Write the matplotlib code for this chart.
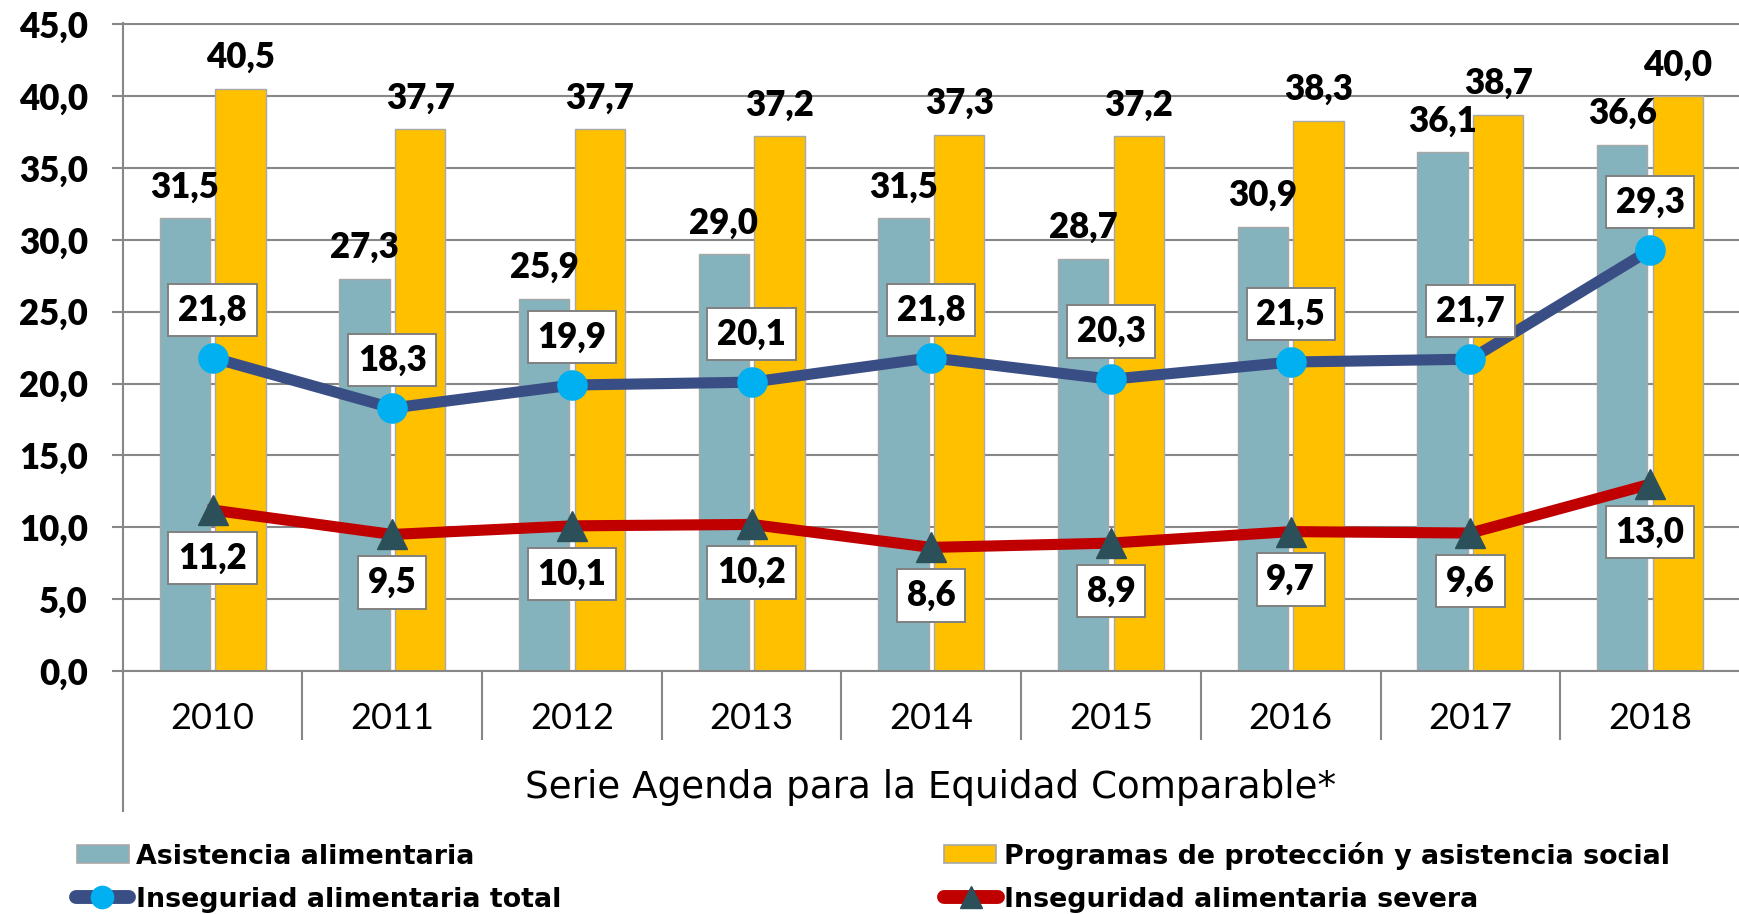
import matplotlib
matplotlib.use('Agg')
import matplotlib.pyplot as plt
import numpy as np
from matplotlib.lines import Line2D
from matplotlib.patches import Rectangle
from matplotlib.transforms import Affine2D

# ---------------- data ----------------
years = ['2010', '2011', '2012', '2013', '2014', '2015', '2016', '2017', '2018']
asistencia = [31.5, 27.3, 25.9, 29.0, 31.5, 28.7, 30.9, 36.1, 36.6]
programas = [40.5, 37.7, 37.7, 37.2, 37.3, 37.2, 38.3, 38.7, 40.0]
inseg_total = [21.8, 18.3, 19.9, 20.1, 21.8, 20.3, 21.5, 21.7, 29.3]
inseg_severa = [11.2, 9.5, 10.1, 10.2, 8.6, 8.9, 9.7, 9.6, 13.0]
y_ticks = [0, 5, 10, 15, 20, 25, 30, 35, 40, 45]
x_title = 'Serie Agenda para la Equidad Comparable*'
legend_labels = ['Asistencia alimentaria',
                 'Programas de protección y asistencia social',
                 'Inseguriad alimentaria total',
                 'Inseguridad alimentaria severa']

# ---------------- style ----------------
TEAL = '#84B2BD'
YELLOW = '#FFC000'
NAVY = '#3A4E86'
LBLUE = '#00B0F0'
RED = '#C00000'
DARK = '#2C505A'
GRAY = '#878787'
BAREDGE = '#A8A8A8'
NUMW = 'heavy'


def fmt(v):
    return f'{v:.1f}'.replace('.', ',')


plt.rcParams['font.family'] = ['Lato', 'DejaVu Sans']
WIDE = ['DejaVu Sans']

W, H = 1740, 914
fig = plt.figure(figsize=(W / 100, H / 100), dpi=100)
ax_left, ax_bottom_px, ax_top_px = 122.7, 671.0, 23.2
ax = fig.add_axes([ax_left / W, (H - ax_bottom_px) / H, 1 - ax_left / W,
                   (ax_bottom_px - ax_top_px) / H])

x = np.arange(len(years))
bw = 0.28
off = 0.155

ax.bar(x - off, asistencia, bw, color=TEAL, edgecolor=BAREDGE, linewidth=1.0, zorder=2)
ax.bar(x + off, programas, bw, color=YELLOW, edgecolor=BAREDGE, linewidth=1.0, zorder=2)

ax.plot(x, inseg_total, color=NAVY, lw=8, marker='o', ms=21, mfc=LBLUE, mec=LBLUE,
        zorder=4, solid_joinstyle='round')
ax.plot(x, inseg_severa, color=RED, lw=8, marker='^', ms=21, mfc=DARK, mec=DARK,
        zorder=4, solid_joinstyle='round')

# bar value labels
for xi, v in zip(x, asistencia):
    ax.annotate(fmt(v), (xi - off, v), xytext=(0, 15), textcoords='offset points',
                ha='center', va='baseline', fontsize=25, fontweight=NUMW, zorder=5)
for xi, v in zip(x, programas):
    ax.annotate(fmt(v), (xi + off, v), xytext=(0, 15), textcoords='offset points',
                ha='center', va='baseline', fontsize=25, fontweight=NUMW, zorder=5)

box = dict(boxstyle='square,pad=0.28', fc='white', ec='#808080', lw=1.4)
for xi, v in zip(x, inseg_total):
    ax.annotate(fmt(v), (xi, v), xytext=(0, 34.5), textcoords='offset points',
                ha='center', va='center', fontsize=25, fontweight=NUMW,
                bbox=box, zorder=6)
for xi, v in zip(x, inseg_severa):
    ax.annotate(fmt(v), (xi, v), xytext=(0, -34.5), textcoords='offset points',
                ha='center', va='center', fontsize=25, fontweight=NUMW,
                bbox=box, zorder=6)

# axes styling
ax.set_xlim(-0.5, len(years) - 0.5)
ax.set_ylim(0, 45.08)
ax.set_yticks(y_ticks)
ax.set_yticklabels([fmt(t) for t in y_ticks], fontweight=NUMW, fontsize=25)
ax.tick_params(axis='y', length=8, width=1.5, color=GRAY, pad=17)
ax.set_xticks(x)
ax.set_xticklabels(years, fontsize=26)
ax.tick_params(axis='x', which='major', length=0, pad=22)
ax.set_xticks(np.arange(0.5, len(years) - 0.5, 1), minor=True)
ax.tick_params(axis='x', which='minor', length=50, width=1.5, color=GRAY, direction='out')

ax.yaxis.grid(True, color=GRAY, lw=1.5)
ax.set_axisbelow(True)
for s in ['top', 'right']:
    ax.spines[s].set_visible(False)
for s in ['left', 'bottom']:
    ax.spines[s].set_color(GRAY)
    ax.spines[s].set_linewidth(1.5)
ax.plot([0, 0], [0, -140 / (ax_bottom_px - ax_top_px)], transform=ax.transAxes,
        color=GRAY, lw=1.5, clip_on=False)

fig.text(931 / W, 1 - 788 / H, x_title, ha='center', va='center', fontsize=26.8,
         family=WIDE)

# ---------------- legend (manual) ----------------
pix = Affine2D().scale(1 / W, -1 / H).translate(0, 1) + fig.transFigure
row1, row2 = 854, 897
base1, base2 = 864, 907

fig.add_artist(Rectangle((77, row1 - 9), 52, 18, transform=pix, fc=TEAL, ec=BAREDGE, lw=1.2))
fig.add_artist(Rectangle((944, row1 - 9), 52, 18, transform=pix, fc=YELLOW, ec=BAREDGE, lw=1.2))
fig.add_artist(Line2D([76, 129], [row2, row2], transform=pix, lw=10, color=NAVY,
                      solid_capstyle='round'))
fig.add_artist(Line2D([102.5], [row2], transform=pix, marker='o', ms=16, mfc=LBLUE, mec=LBLUE))
fig.add_artist(Line2D([944, 998], [row2, row2], transform=pix, lw=10, color=RED,
                      solid_capstyle='round'))
fig.add_artist(Line2D([971], [row2], transform=pix, marker='^', ms=16, mfc=DARK, mec=DARK))

LFS = 19.4
fig.text(136 / W, 1 - base1 / H, legend_labels[0], fontsize=LFS, fontweight='bold',
         va='baseline', family=WIDE)
fig.text(1004 / W, 1 - base1 / H, legend_labels[1], fontsize=LFS, fontweight='bold',
         va='baseline', family=WIDE)
fig.text(136 / W, 1 - base2 / H, legend_labels[2], fontsize=LFS, fontweight='bold',
         va='baseline', family=WIDE)
fig.text(1004 / W, 1 - base2 / H, legend_labels[3], fontsize=LFS, fontweight='bold',
         va='baseline', family=WIDE)

fig.savefig('out.png', dpi=100, facecolor='white')
